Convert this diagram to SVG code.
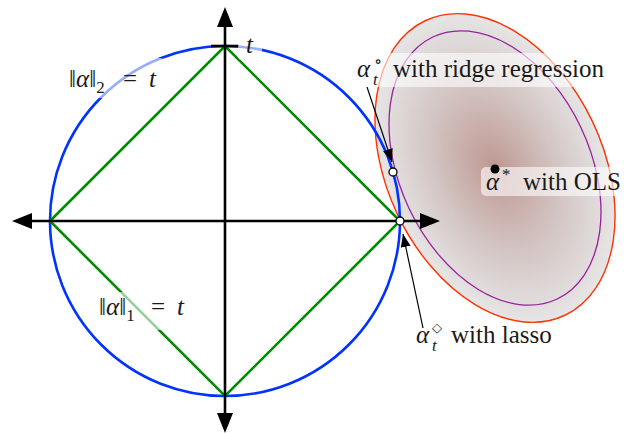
<svg xmlns="http://www.w3.org/2000/svg" width="624" height="433" viewBox="0 0 624 433">
<style>
text{font-family:'Liberation Serif','DejaVu Serif',serif;font-size:25px;fill:#1a1a1a}
.m{font-style:italic}
.s{font-size:17px}
.d{font-size:13px}
.box{fill:#fff;fill-opacity:0.6}
.ax{stroke:#000;stroke-width:2.6;fill:none}
.ah{fill:#000}
.thin{stroke:#000;stroke-width:1.2;fill:none;marker-end:url(#arr)}
.pt{fill:#fff;stroke:#000;stroke-width:1.3}
</style>
<defs>
<radialGradient id="g" cx="0.5" cy="0.5" r="0.5">
<stop offset="0" stop-color="#bf9892"/>
<stop offset="0.55" stop-color="#d3c6c4"/>
<stop offset="1" stop-color="#e6e5e5"/>
</radialGradient>
<marker id="arr" viewBox="0 0 13 10" refX="13" refY="5" markerWidth="13" markerHeight="10" markerUnits="userSpaceOnUse" orient="auto">
<path d="M0,0 L13,5 L0,10 z" fill="#000"/>
</marker>
</defs>
<g id="ellipses" transform="translate(495,168) rotate(-25.4)">
<ellipse id="lasso-contour" cx="0" cy="0" rx="108" ry="163" fill="url(#g)" stroke="#ff3300" stroke-width="1.4"/>
<ellipse id="ridge-contour" cx="0" cy="0" rx="95" ry="145" fill="none" stroke="#9a1f9a" stroke-width="1.3"/>
</g>
<g id="l2-ball"><circle cx="225" cy="221" r="175" fill="none" stroke="#0033ff" stroke-width="2.6"/></g>
<g id="l1-ball"><polygon points="50,221 225,46 400,221 225,396" fill="none" stroke="#008a00" stroke-width="2.6"/></g>
<g id="axes">
<line class="ax" x1="30" y1="221" x2="422" y2="221"/>
<line class="ax" x1="225" y1="25" x2="225" y2="415"/>
<polygon class="ah" points="12,221 32,213 32,229"/>
<polygon class="ah" points="440,221 420,213 420,229"/>
<polygon class="ah" points="225,7 217,27 233,27"/>
<polygon class="ah" points="225,433 217,413 233,413"/>
<line class="ax" x1="211" y1="46" x2="239" y2="46"/>
</g>
<g id="label-boxes">
<rect class="box" x="60" y="58" width="104" height="40" rx="4"/>
<rect class="box" x="238" y="30" width="24" height="30" rx="4"/>
<rect class="box" x="95" y="292" width="100" height="38" rx="4"/>
<rect class="box" x="352" y="53" width="262" height="34" rx="4"/>
<rect class="box" x="481" y="167" width="150" height="29" rx="5"/>
</g>
<g id="connectors">
<line class="thin" x1="367" y1="87" x2="392" y2="162"/>
<line class="thin" x1="423" y1="328" x2="403" y2="234"/>
</g>
<g id="points">
<circle id="ridge-point" class="pt" cx="393" cy="172" r="4"/>
<circle id="lasso-point" class="pt" cx="400" cy="221" r="4"/>
<circle id="ols-point" cx="495" cy="169" r="4.5" fill="#000"/>
</g>
<g id="labels">
<text id="l2-label" x="69" y="87">‖<tspan class="m">α</tspan>‖<tspan class="s" dy="6">2</tspan><tspan dy="-6" x="123">=</tspan><tspan class="m" x="149">t</tspan></text>
<text id="l1-label" x="99" y="315">‖<tspan class="m">α</tspan>‖<tspan class="s" dy="6">1</tspan><tspan dy="-6" x="151">=</tspan><tspan class="m" x="177">t</tspan></text>
<text id="t-label" class="m" x="246" y="53">t</text>
<text id="ridge-label"><tspan class="m" x="357" y="77">α</tspan><tspan class="s" x="374" y="67">∘</tspan><tspan class="s m" x="373" y="85">t</tspan><tspan x="393" y="77">with ridge regression</tspan></text>
<text id="ols-label"><tspan class="m" x="486" y="190">α</tspan><tspan class="s" x="502" y="180">*</tspan><tspan x="523" y="190">with OLS</tspan></text>
<text id="lasso-label"><tspan class="m" x="416" y="343">α</tspan><tspan class="d" x="432" y="332">◇</tspan><tspan class="s m" x="432" y="351">t</tspan><tspan x="451" y="343">with lasso</tspan></text>
</g>
</svg>
